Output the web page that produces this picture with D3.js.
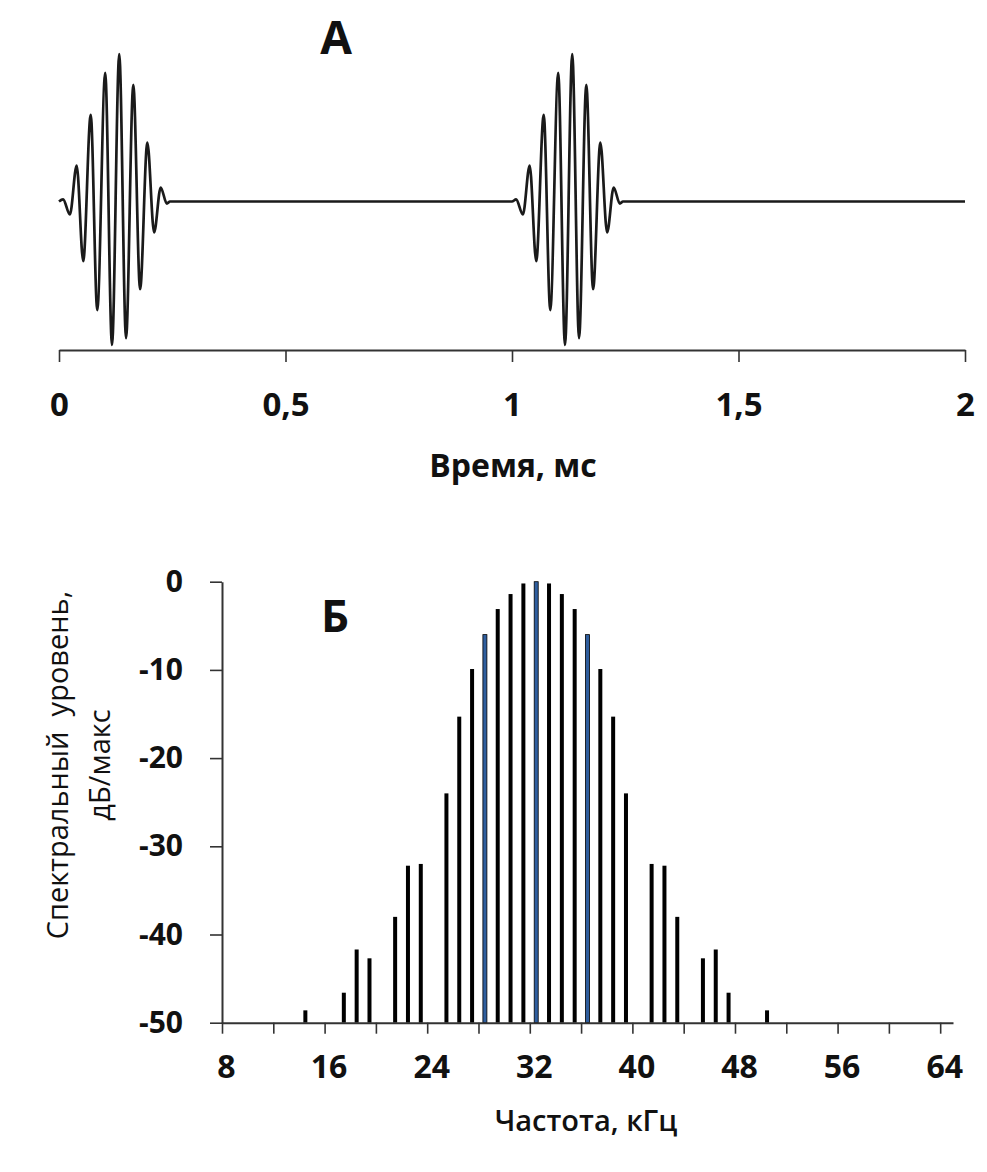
<!DOCTYPE html>
<html>
<head>
<meta charset="utf-8">
<script src="https://cdn.jsdelivr.net/npm/d3@7"></script>
<style>
  body { margin: 0; background: #fff; }
  text { font-family: "Open Sans", "Noto Sans", sans-serif; fill: #111; }
</style>
</head>
<body>
<script>
// --- chart A: two tone bursts (extrema of one burst, in ms / relative amplitude)
const pulseT = [0, 0.009, 0.024, 0.039, 0.0535, 0.070, 0.0845, 0.102, 0.117, 0.133,
    0.148, 0.164, 0.179, 0.195, 0.210, 0.2245, 0.238, 0.245];
const pulseAmp = [0, 0.014, -0.088, 0.243, -0.405, 0.588, -0.736, 0.872, -0.973, 1.0,
    -0.926, 0.791, -0.595, 0.399, -0.209, 0.095, -0.014, 0];
const pulseStarts = [0, 1];
const timeTicks = [0, 0.5, 1, 1.5, 2];

// --- chart Б: line spectrum
const freqs = [14.5, 17.5, 18.5, 19.5, 21.5, 22.5, 23.5, 25.5, 26.5, 27.5, 28.5, 29.5,
    30.5, 31.5, 32.5, 33.5, 34.5, 35.5, 36.5, 37.5, 38.5, 39.5, 41.5, 42.5, 43.5, 45.5,
    46.5, 47.5, 50.5];
const levels = [-48.6, -46.6, -41.7, -42.7, -38.0, -32.2, -32.0, -24.0, -15.3, -9.9, -6.0, -3.1,
    -1.4, -0.2, 0, -0.2, -1.4, -3.1, -6.0, -9.9, -15.3, -24.0, -32.0, -32.2, -38.0, -42.7,
    -41.7, -46.6, -48.6];
const highlighted = [28.5, 32.5, 36.5];
const freqTicks = d3.range(8, 65, 4);
const levelTicks = [0, -10, -20, -30, -40, -50];

let w = 987,
    h = 1172;

let svg = d3.select("body").append("svg")
    .attr("width", w)
    .attr("height", h);

svg.append("rect").attr("width", w).attr("height", h).attr("fill", "#fff");

// ================= A =================
let xt = d3.scaleLinear().domain([0, 2]).range([59, 965]);
let ya = d3.scaleLinear().domain([-1, 1]).range([349, 54]);

let wave = [];
pulseStarts.forEach(function (s) {
    pulseT.forEach(function (t, i) {
        wave.push({ t: s + t, a: pulseAmp[i] });
    });
});
wave.push({ t: 2, a: 0 });

svg.append("path")
    .datum(wave)
    .attr("fill", "none")
    .attr("stroke", "#1a1a1a")
    .attr("stroke-width", 2.7)
    .attr("stroke-linejoin", "round")
    .attr("d", d3.line()
        .x(function (d) { return xt(d.t); })
        .y(function (d) { return ya(d.a); })
        .curve(d3.curveMonotoneX));

let axA = svg.append("g")
    .attr("transform", "translate(0,350)")
    .call(d3.axisBottom(xt)
        .tickValues(timeTicks)
        .tickSize(12)
        .tickSizeOuter(0)
        .tickPadding(31)
        .tickFormat(function (d) { return String(d).replace(".", ","); }));
axA.select(".domain").attr("stroke", "#333").attr("stroke-width", 2);
axA.selectAll(".tick line").attr("stroke", "#333").attr("stroke-width", 1.6);
axA.selectAll(".tick text")
    .attr("font-size", 33).attr("font-weight", "bold")
    .attr("font-family", "'Open Sans', sans-serif").attr("fill", "#111");

svg.append("text")
    .attr("x", 513).attr("y", 477)
    .attr("text-anchor", "middle")
    .attr("font-size", 32).attr("font-weight", "bold")
    .text("Время, мс");

svg.append("text")
    .attr("x", 336).attr("y", 54)
    .attr("text-anchor", "middle")
    .attr("font-size", 46).attr("font-weight", "bold")
    .text("А");

// ================= Б =================
let x = d3.scaleLinear().domain([8, 65]).range([222, 953]);
let y = d3.scaleLinear().domain([-50, 0]).range([1022.7, 581.7]);

svg.append("g")
    .selectAll("rect")
    .data(freqs)
    .enter().append("rect")
    .attr("x", function (d) { return x(d) - 2; })
    .attr("width", 4)
    .attr("y", function (d, i) { return y(levels[i]); })
    .attr("height", function (d, i) { return y(-50) - y(levels[i]); })
    .attr("fill", function (d) { return highlighted.includes(d) ? "#2f5e9e" : "#000"; })
    .attr("stroke", function (d) { return highlighted.includes(d) ? "#000" : "none"; })
    .attr("stroke-width", 0.8);

let axY = svg.append("g")
    .attr("transform", "translate(222,0)")
    .call(d3.axisLeft(y)
        .tickValues(levelTicks)
        .tickSize(12)
        .tickSizeOuter(0)
        .tickPadding(27)
        .tickFormat(function (d) { return String(d); }));
axY.select(".domain").attr("stroke", "#333").attr("stroke-width", 2);
axY.selectAll(".tick line").attr("stroke", "#333").attr("stroke-width", 1.6);
axY.selectAll(".tick text")
    .attr("font-size", 30).attr("font-weight", "bold")
    .attr("font-family", "'Open Sans', sans-serif").attr("fill", "#111");

let axX = svg.append("g")
    .attr("transform", "translate(0,1022.7)")
    .call(d3.axisBottom(x)
        .tickValues(freqTicks)
        .tickSize(11)
        .tickSizeOuter(0)
        .tickPadding(22)
        .tickFormat(function (d) { return d % 8 === 0 ? d : ""; }));
axX.select(".domain").attr("stroke", "#333").attr("stroke-width", 2);
axX.selectAll(".tick line").attr("stroke", "#333").attr("stroke-width", 1.6);
axX.selectAll(".tick text")
    .attr("dx", 4)
    .attr("font-size", 32).attr("font-weight", "bold")
    .attr("font-family", "'Open Sans', sans-serif").attr("fill", "#111");

svg.append("text")
    .attr("x", 586).attr("y", 1131)
    .attr("text-anchor", "middle")
    .attr("font-size", 29).attr("font-weight", 600)
    .text("Частота, кГц");

svg.append("text")
    .attr("x", 335).attr("y", 632)
    .attr("text-anchor", "middle")
    .attr("font-size", 44).attr("font-weight", "bold")
    .text("Б");

let yTitle = svg.append("text")
    .attr("transform", "translate(68,765) rotate(-90)")
    .attr("text-anchor", "middle")
    .attr("font-size", 29);
yTitle.append("tspan").attr("x", 0).attr("y", 0).text("Спектральный\u00a0\u00a0уровень,");
yTitle.append("tspan").attr("x", 0).attr("y", 42).text("дБ/макс");
</script>
</body>
</html>
